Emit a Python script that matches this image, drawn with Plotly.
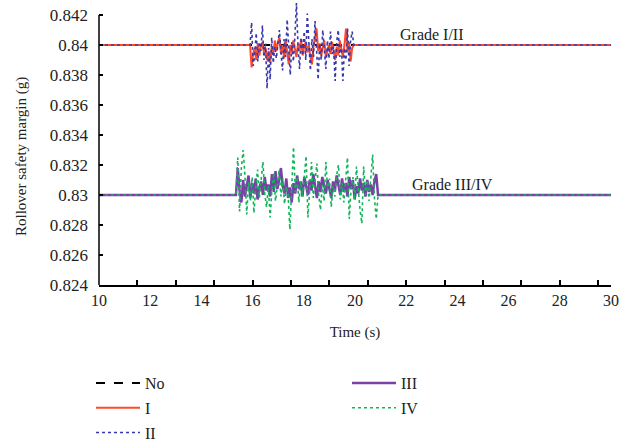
import numpy as np
import plotly.graph_objects as go

# ---------------- data ----------------
x_start, x_end = 10, 30
base_12 = 0.84   # Grade I/II baseline
base_34 = 0.83   # Grade III/IV baseline

seg12_start, seg12_end = 15.9, 19.95
seg34_start, seg34_end = 15.35, 20.9

I_vals = [
    0.8400, 0.8385, 0.8394, 0.8398, 0.8390, 0.8401, 0.8393, 0.8399, 0.8402, 0.8395,
    0.8398, 0.8390, 0.8396, 0.8388, 0.8399, 0.8394, 0.8403, 0.8396, 0.8402, 0.8405,
    0.8394, 0.8400, 0.8391, 0.8404, 0.8397, 0.8387, 0.8400, 0.8395, 0.8403, 0.8398,
    0.8392, 0.8401, 0.8396, 0.8404, 0.8393, 0.8399, 0.8402, 0.8395, 0.8400, 0.8392,
    0.8387, 0.8399, 0.8404, 0.8411, 0.8396, 0.8401, 0.8393, 0.8398, 0.8403, 0.8392,
    0.8397, 0.8400, 0.8394, 0.8402, 0.8396, 0.8390, 0.8399, 0.8393, 0.8403, 0.8397,
    0.8392, 0.8400, 0.8411, 0.8395, 0.8402, 0.8389, 0.8398, 0.8400]

II_vals = [
    0.8400, 0.8415, 0.8386, 0.8393, 0.8408, 0.8389, 0.8402, 0.8396, 0.8413, 0.8390,
    0.8401, 0.8371, 0.8398, 0.8377, 0.8405, 0.8388, 0.8399, 0.8391, 0.8403, 0.8410,
    0.8395, 0.8383, 0.8404, 0.8392, 0.8417, 0.8396, 0.8380, 0.8402, 0.8389, 0.8406,
    0.8428, 0.8399, 0.8384, 0.8405, 0.8393, 0.8409, 0.8390, 0.8421, 0.8397, 0.8383,
    0.8404, 0.8392, 0.8416, 0.8395, 0.8377, 0.8401, 0.8390, 0.8410, 0.8396, 0.8384,
    0.8403, 0.8391, 0.8409, 0.8394, 0.8399, 0.8376, 0.8402, 0.8410, 0.8392, 0.8400,
    0.8376, 0.8398, 0.8390, 0.8411, 0.8386, 0.8403, 0.8409, 0.8400]

III_vals = [
    0.8300, 0.8318, 0.8303, 0.8295, 0.8310, 0.8299, 0.8306, 0.8313, 0.8298, 0.8308,
    0.8301, 0.8311, 0.8297, 0.8305, 0.8309, 0.8300, 0.8312, 0.8303, 0.8307, 0.8299,
    0.8314, 0.8302, 0.8316, 0.8304, 0.8310, 0.8318, 0.8306, 0.8301, 0.8311, 0.8298,
    0.8305, 0.8295, 0.8308, 0.8301, 0.8313, 0.8304, 0.8309, 0.8299, 0.8312, 0.8305,
    0.8300, 0.8310, 0.8303, 0.8314, 0.8307, 0.8298, 0.8309, 0.8302, 0.8312, 0.8306,
    0.8301, 0.8310, 0.8304, 0.8298, 0.8309, 0.8303, 0.8313, 0.8305, 0.8300, 0.8311,
    0.8302, 0.8308, 0.8299, 0.8312, 0.8304, 0.8310, 0.8297, 0.8306, 0.8301, 0.8311,
    0.8303, 0.8308, 0.8299, 0.8310, 0.8302, 0.8307, 0.8300, 0.8309, 0.8314, 0.8300]

IV_vals = [
    0.8300, 0.8325, 0.8289, 0.8318, 0.8330, 0.8313, 0.8287, 0.8309, 0.8296, 0.8312,
    0.8288, 0.8305, 0.8317, 0.8298, 0.8310, 0.8322, 0.8301, 0.8292, 0.8306, 0.8285,
    0.8304, 0.8315, 0.8296, 0.8308, 0.8317, 0.8299, 0.8311, 0.8294, 0.8306, 0.8300,
    0.8277, 0.8305, 0.8332, 0.8302, 0.8312, 0.8295, 0.8309, 0.8299, 0.8315, 0.8326,
    0.8285, 0.8304, 0.8322, 0.8298, 0.8310, 0.8321, 0.8300, 0.8290, 0.8307, 0.8296,
    0.8322, 0.8303, 0.8311, 0.8292, 0.8306, 0.8299, 0.8313, 0.8320, 0.8297, 0.8308,
    0.8295, 0.8310, 0.8325, 0.8284, 0.8304, 0.8312, 0.8297, 0.8319, 0.8301, 0.8290,
    0.8281, 0.8319, 0.8300, 0.8310, 0.8296, 0.8313, 0.8327, 0.8298, 0.8284, 0.8300]

y_tickvals = [0.824, 0.826, 0.828, 0.83, 0.832, 0.834, 0.836, 0.838, 0.84, 0.842]
y_ticktext = ["0.824", "0.826", "0.828", "0.83", "0.832", "0.834", "0.836", "0.838", "0.84", "0.842"]
x_labelvals = [10, 12, 14, 16, 18, 20, 22, 24, 26, 28, 30]
x_tickmarks = [10 + 1.5 * i for i in range(14)]

names = ["No", "I", "II", "III", "IV"]
colors = {"No": "#000000", "I": "#FF4A2A", "II": "#3838AA", "III": "#7B3FA8", "IV": "#10B35A"}
dashes = {"No": "dash", "I": "solid", "II": "dot", "III": "solid", "IV": "dot"}
widths = {"No": 2, "I": 2, "II": 1.6, "III": 2.5, "IV": 1.6}


def build(vals, s, e, base):
    t = list(np.linspace(s, e, len(vals)))
    return [x_start] + t + [x_end], [base] + list(vals) + [base]


series = {
    "No": ([x_start, x_end], [base_12, base_12]),
    "I": build(I_vals, seg12_start, seg12_end, base_12),
    "II": build(II_vals, seg12_start, seg12_end, base_12),
    "III": build(III_vals, seg34_start, seg34_end, base_34),
    "IV": build(IV_vals, seg34_start, seg34_end, base_34),
}

FONT = "Liberation Serif"
fig = go.Figure()
for n in names:
    xs, ys = series[n]
    fig.add_trace(go.Scatter(
        x=xs, y=ys, mode="lines", name=n,
        # "No" sits on the base axis; the others on the overlay so they draw above it
        xaxis="x" if n == "No" else "x2",
        line=dict(color=colors[n], dash=dashes[n], width=widths[n]),
        legend="legend" if n in ("No", "I", "II") else "legend2",
        legendgroup=n,
    ))

leg_common = dict(font=dict(family=FONT, size=16, color="#222"), bgcolor="rgba(0,0,0,0)",
                  xref="container", yref="container", xanchor="left", yanchor="top",
                  tracegroupgap=1, orientation="v", itemwidth=44)

fig.update_layout(
    width=629, height=443,
    margin=dict(l=99, r=18, t=0, b=158, autoexpand=False),
    plot_bgcolor="white", paper_bgcolor="white",
    font=dict(family=FONT, size=15, color="#222"),
    xaxis=dict(range=[x_start, x_end], tickvals=x_labelvals, ticks="",
               showline=True, linecolor="black", linewidth=1.5, showgrid=False, zeroline=False,
               tickfont=dict(size=16), title=dict(text="Time (s)", font=dict(size=15), standoff=19)),
    xaxis2=dict(range=[x_start, x_end], overlaying="x", anchor="y", side="bottom",
                tickvals=x_tickmarks, ticks="inside", ticklen=5, tickwidth=1.5, tickcolor="black",
                showticklabels=False, showgrid=False, zeroline=False, showline=False),
    yaxis=dict(range=[0.824, 0.843], tickvals=y_tickvals, ticktext=y_ticktext,
               ticks="inside", ticklen=4, tickwidth=1.5, tickcolor="black", ticklabelstandoff=10,
               showline=False, showgrid=False, zeroline=False, tickfont=dict(size=17)),
    legend=dict(x=91 / 629, y=1 - 366 / 443, **leg_common),
    legend2=dict(x=347 / 629, y=1 - 366 / 443, **leg_common),
    shapes=[dict(type="line", xref="x domain", yref="y", x0=0, x1=0, y0=0.824, y1=0.842,
                 line=dict(color="black", width=1.5))],
    annotations=[
        dict(x=23.0, y=0.84067, text="Grade I/II", showarrow=False, font=dict(size=16, family=FONT)),
        dict(x=23.8, y=0.83073, text="Grade III/IV", showarrow=False, font=dict(size=16, family=FONT)),
        dict(xref="paper", yref="paper", x=(22 - 99) / 512, y=(285 - 157) / 285,
             xanchor="center", yanchor="middle",
             text="Rollover safety margin (g)", textangle=-90, showarrow=False,
             font=dict(size=15, family=FONT)),
    ],
)

fig.write_html("out.html")
